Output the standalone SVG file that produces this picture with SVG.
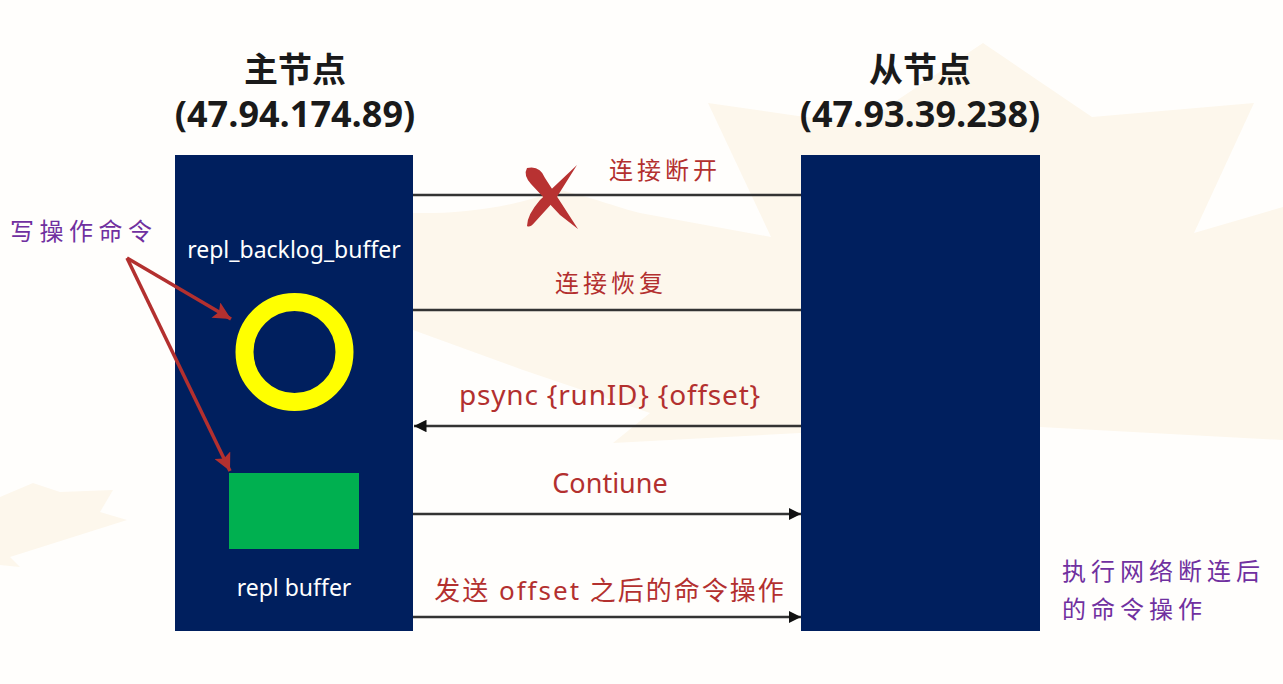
<svg xmlns="http://www.w3.org/2000/svg" width="1283" height="684" viewBox="0 0 1283 684">
<defs>
<style>
.title{font-family:"Open Sans","Noto Sans CJK SC",sans-serif;font-weight:700;fill:#1a1a1a;text-anchor:middle}
.red{font-family:"Noto Sans","Noto Sans CJK SC",sans-serif;fill:#b3302f;text-anchor:middle}
.purple{font-family:"Noto Sans CJK SC",sans-serif;fill:#7030a0;font-size:24px}
.white{font-family:"Noto Sans","Noto Sans CJK SC",sans-serif;fill:#ffffff;font-size:23px;text-anchor:middle}
.node{fill:#001f5e}
.conn{stroke:#333333;stroke-width:2.5;fill:none}
.redarrow{stroke:#b3302f;stroke-width:3.5;fill:none}
</style>
<marker id="ah" viewBox="0 0 10 10" refX="10" refY="5" markerWidth="5" markerHeight="5" markerUnits="strokeWidth" orient="auto">
<path d="M0,0 L10,5 L0,10 Z" fill="#111111"/>
</marker>
<marker id="rah" viewBox="0 0 10 10" refX="10" refY="5" markerWidth="5.5" markerHeight="5" markerUnits="strokeWidth" orient="auto">
<path d="M0,0 L10,5 L0,10 L2,5 Z" fill="#b3302f"/>
</marker>
</defs>
<rect width="1283" height="684" fill="#fffefc"/>
<g id="watermark" fill="#fdf7ec">
<path d="M708,103 L860,125 L983,43 L1092,117 L1254,103 L1194,233 L1283,207 L1283,440 L1040,427 L800,433 L613,443 L650,413 L523,370 L413,330 L413,213 C460,214 510,208 560,190 C600,200 620,208 640,213 L771,237 Z"/>
<path d="M0,497 L33,483 L60,492 L113,490 L100,512 L127,520 L10,557 L20,567 L0,565 Z"/>
</g>
<g id="master">
<text class="title" x="295" y="82" font-size="34">主节点</text>
<text class="title" x="295" y="127" font-size="36">(47.94.174.89)</text>
<rect class="node" x="175" y="155" width="238" height="476"/>
<text class="white" x="294" y="258">repl_backlog_buffer</text>
<circle cx="294.5" cy="352" r="50" fill="none" stroke="#ffff00" stroke-width="18"/>
<rect x="229" y="473" width="130" height="76" fill="#00b050"/>
<text class="white" x="294" y="596" font-size="24">repl buffer</text>
</g>
<g id="slave">
<text class="title" x="920" y="82" font-size="34">从节点</text>
<text class="title" x="920" y="127" font-size="36">(47.93.39.238)</text>
<rect class="node" x="801" y="155" width="239" height="476"/>
</g>
<g id="write-label">
<text class="purple" x="10" y="240" letter-spacing="5.5">写操作命令</text>
</g>
<g id="slave-note">
<text class="purple" x="1062" y="580" letter-spacing="5">执行网络断连后</text>
<text class="purple" x="1062" y="618" letter-spacing="5">的命令操作</text>
</g>
<g id="connectors">
<line class="conn" x1="413" y1="195" x2="801" y2="195"/>
<line class="conn" x1="413" y1="310" x2="801" y2="310"/>
<line class="conn" x1="801" y1="426" x2="414" y2="426" marker-end="url(#ah)"/>
<line class="conn" x1="413" y1="514" x2="801" y2="514" marker-end="url(#ah)"/>
<line class="conn" x1="413" y1="617" x2="801" y2="617" marker-end="url(#ah)"/>
<line class="redarrow" x1="127" y1="258" x2="231" y2="319" marker-end="url(#rah)"/>
<line class="redarrow" x1="127" y1="258" x2="230" y2="471" marker-end="url(#rah)"/>
</g>
<g id="labels">
<text class="red" x="665" y="179" font-size="24" letter-spacing="4">连接断开</text>
<text class="red" x="611" y="292" font-size="24" letter-spacing="4">连接恢复</text>
<text class="red" x="610" y="405" font-size="28" letter-spacing="0.8">psync {runID} {offset}</text>
<text class="red" x="610" y="493" font-size="27">Contiune</text>
<text class="red" x="610" y="600" font-size="26" letter-spacing="2">发送 offset 之后的命令操作</text>
</g>
<g id="cross" fill="#b83232">
<path d="M527,168 Q540,165 545,178 L578,229 L560,215 L531,184 Q523,175 527,168 Z"/>
<path d="M577,165 L555,200 L535,222 Q530,228 527,226 Q527,215 540,200 Z"/>
</g>
</svg>
